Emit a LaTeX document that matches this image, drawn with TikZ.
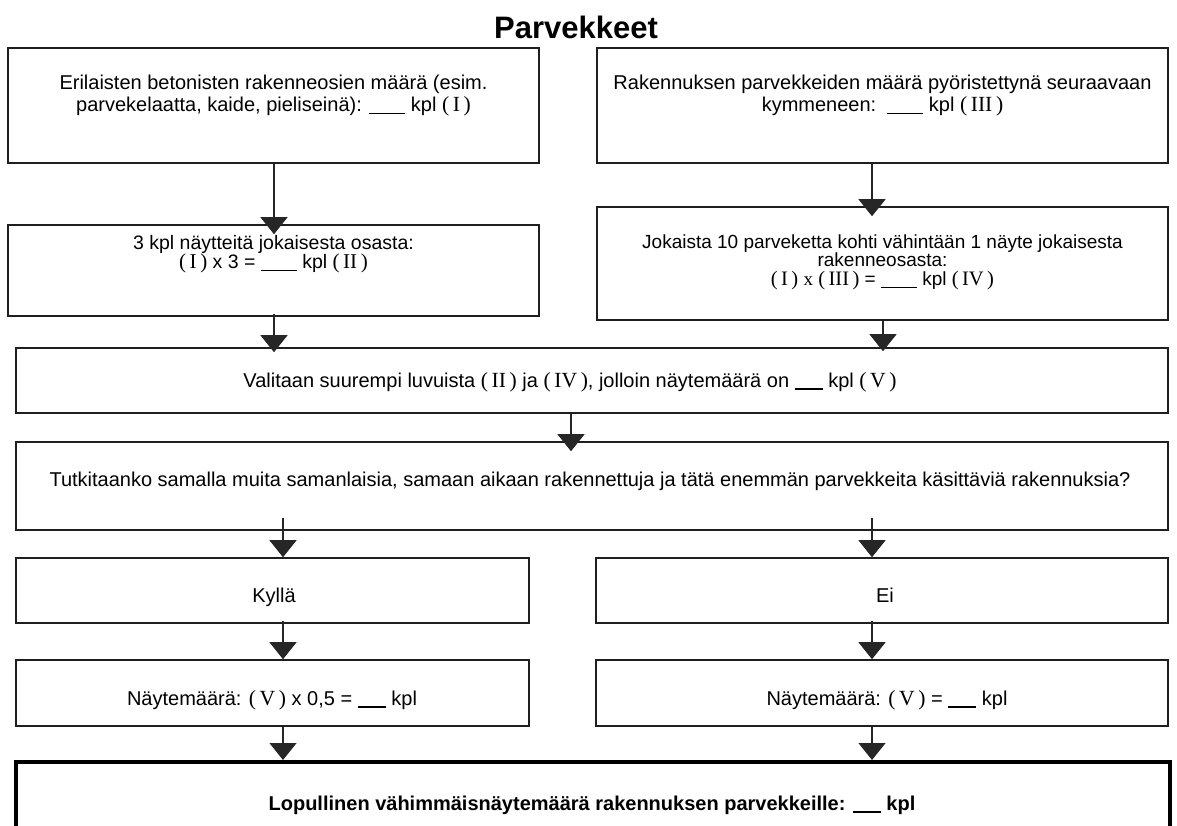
\documentclass[tikz,border=0pt]{standalone}
\usepackage{fontspec}
\setmainfont{Liberation Sans}
\newfontfamily\rn{Liberation Serif}
\usetikzlibrary{arrows.meta}
\newcommand{\blank}[1][30pt]{\rule[-2.5pt]{#1}{1.1pt}}
\newcommand{\R}[1]{{\rn\larger(\,#1\,)}}
\newcommand{\larger}{\fontsize{1.08em}{1em}\selectfont}
\tikzset{
  box/.style={draw=black!88, line width=1.6pt, inner sep=0pt},
  finalbox/.style={draw=black, line width=4pt, inner sep=0pt},
  txt/.style={align=center, inner sep=0pt, font=\fontsize{20}{22}\selectfont},
  line/.style={txt, anchor=base},
  arr/.style={draw=black!85, line width=1.3pt, -{Triangle[width=27pt,length=17pt]}},
}
\begin{document}
\begin{tikzpicture}[x=1pt,y=-1pt]
\useasboundingbox (0,0) rectangle (1177,826);
\clip (0,0) rectangle (1177,826);
\fill[white] (0,0) rectangle (1177,826);

\node[font=\fontsize{31}{34}\selectfont\bfseries, inner sep=0pt, anchor=base] (title) at (576,39) {Parvekkeet};

% boxes
\node[box, minimum width=531pt, minimum height=115pt] (b1) at (273.5,105.5) {};
\node[box, minimum width=571pt, minimum height=115pt] (b2) at (882.5,105.5) {};
\node[box, minimum width=531pt, minimum height=91pt]  (b3) at (273.5,270.5) {};
\node[box, minimum width=571pt, minimum height=113pt] (b4) at (882.5,263.5) {};
\node[box, minimum width=1152pt, minimum height=65pt] (b5) at (592,380.5) {};
\node[box, minimum width=1152pt, minimum height=88pt] (b6) at (592,486) {};
\node[box, minimum width=513pt, minimum height=65pt]  (b7) at (272.5,590.5) {};
\node[box, minimum width=572pt, minimum height=65pt]  (b8) at (882,590.5) {};
\node[box, minimum width=513pt, minimum height=66pt]  (b9) at (272.5,693) {};
\node[box, minimum width=572pt, minimum height=66pt]  (b10) at (882,693) {};
\node[finalbox, minimum width=1154pt, minimum height=90pt] (b11) at (593,807) {};

% texts
\node[txt] (t1) at (273.5,96) {Erilaisten betonisten rakenneosien määrä (esim.\\ parvekelaatta, kaide, pieliseinä): \blank[36pt] kpl \R{I}};
\node[txt] (t2) at (882.5,96) {Rakennuksen parvekkeiden määrä pyöristettynä seuraavaan\\ kymmeneen:\ \ \blank[36pt] kpl \R{III}};
\node[txt, font=\fontsize{19.5}{19}\selectfont] (t3) at (273.5,254) {3 kpl näytteitä jokaisesta osasta:\\ \R{I} x 3 = \blank[36pt] kpl \R{II}};
\node[txt, font=\fontsize{19}{18.5}\selectfont] (t4) at (882.5,262) {Jokaista 10 parveketta kohti vähintään 1 näyte jokaisesta\\ rakenneosasta:\\ \R{I} {\rn x} \R{III} = \blank[36pt] kpl \R{IV}};
\node[line] (t5) at (570,387) {Valitaan suurempi luvuista \R{II} ja \R{IV}, jolloin näytemäärä on \blank[28pt] kpl \R{V}};
\node[line] (t6) at (590,486) {Tutkitaanko samalla muita samanlaisia, samaan aikaan rakennettuja ja tätä enemmän parvekkeita käsittäviä rakennuksia?};
\node[line] (t7) at (274,602) {Kyllä};
\node[line] (t8) at (885,602) {Ei};
\node[line] (t9) at (272,705) {Näytemäärä: \R{V} x 0,5 = \blank[28pt] kpl};
\node[line] (t10) at (887,705) {Näytemäärä: \R{V} = \blank[28pt] kpl};
\node[line, font=\fontsize{20}{22}\selectfont\bfseries] (t11) at (592,810) {Lopullinen vähimmäisnäytemäärä rakennuksen parvekkeille: \blank[28pt] kpl};

% connectors
\draw[arr, shorten >=-10pt] ([xshift=0.5pt]b1.south) -- ([xshift=0.5pt]b1.south |- b3.north);
\draw[arr, shorten >=-10pt] ([xshift=-10.5pt]b2.south) -- ([xshift=-10.5pt]b2.south |- b4.north);
\draw[arr, shorten >=-5pt, shorten <=-3pt] ([xshift=0.5pt]b3.south) -- ([xshift=0.5pt]b3.south |- b5.north);
\draw[arr, shorten >=-4pt] ([xshift=0.5pt]b4.south) -- ([xshift=0.5pt]b4.south |- b5.north);
\draw[arr, shorten >=-10pt] ([xshift=-21pt]b5.south) -- ([xshift=-21pt]b5.south |- b6.north);
\draw[arr, shorten <=-13pt] ([xshift=-309pt]b6.south) -- ([xshift=-309pt]b6.south |- b7.north);
\draw[arr, shorten <=-13pt] ([xshift=280pt]b6.south) -- ([xshift=280pt]b6.south |- b8.north);
\draw[arr, shorten <=-3pt] ([xshift=10.5pt]b7.south) -- ([xshift=10.5pt]b7.south |- b9.north);
\draw[arr, shorten <=-3pt] ([xshift=-10pt]b8.south) -- ([xshift=-10pt]b8.south |- b10.north);
\draw[arr] ([xshift=10.5pt]b9.south) -- ([xshift=10.5pt]b9.south |- b11.north);
\draw[arr] ([xshift=-10pt]b10.south) -- ([xshift=-10pt]b10.south |- b11.north);
\end{tikzpicture}
\end{document}
